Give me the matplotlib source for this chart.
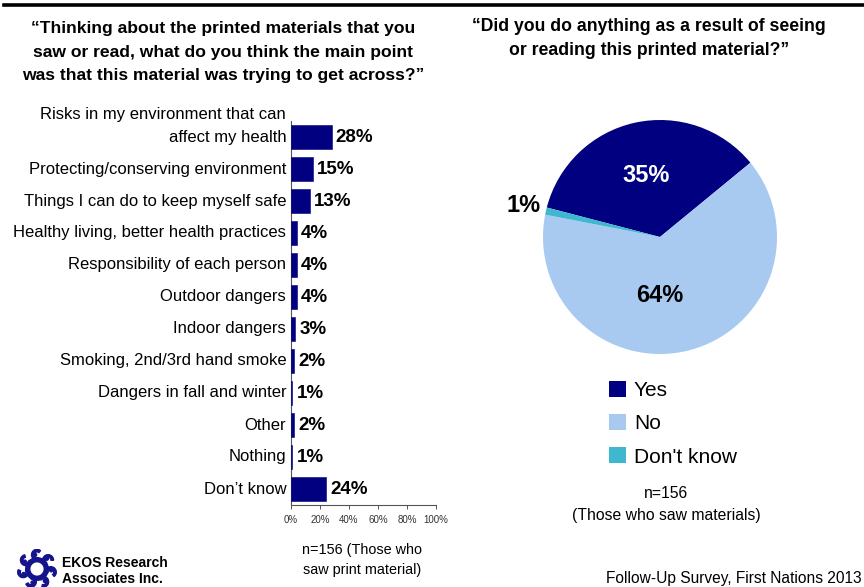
import numpy as np
import matplotlib
matplotlib.use("Agg")
import matplotlib.pyplot as plt
from matplotlib.patches import Patch, Wedge, Circle

# ---- data -------------------------------------------------------------
categories = [
    "Risks in my environment that can\naffect my health",
    "Protecting/conserving environment",
    "Things I can do to keep myself safe",
    "Healthy living, better health practices",
    "Responsibility of each person",
    "Outdoor dangers",
    "Indoor dangers",
    "Smoking, 2nd/3rd hand smoke",
    "Dangers in fall and winter",
    "Other",
    "Nothing",
    "Don\u2019t know",
]
main_point_pct = [28, 15, 13, 4, 4, 4, 3, 2, 1, 2, 1, 24]
x_ticks = [0, 20, 40, 60, 80, 100]

pie_labels = ["Yes", "No", "Don't know"]
pie_pct = [35, 64, 1]

# ---- style -------------------------------------------------------------
NAVY = "#000080"
LIGHT = "#a9caf0"
TEAL = "#3fb8cf"
REG = ["Liberation Sans", "DejaVu Sans"]

W, H = 864, 587
fig = plt.figure(figsize=(W / 100, H / 100), dpi=100)
fig.patch.set_facecolor("white")


def fx(px):
    return px / W


def fy(py):
    return 1 - py / H


# rule across the top
fig.add_artist(plt.Line2D([fx(4), fx(864)], [fy(5), fy(5)], color="black", lw=2.6))

# ---- titles ------------------------------------------------------------
fig.text(fx(223), fy(52),
         "\u201cThinking about the printed materials that you\n"
         "saw or read, what do you think the main point\n"
         "was that this material was trying to get across?\u201d",
         ha="center", va="center", fontsize=12.6, fontweight="bold",
         family=REG, linespacing=1.7)
fig.text(fx(649), fy(38.5),
         "\u201cDid you do anything as a result of seeing\n"
         "or reading this printed material?\u201d",
         ha="center", va="center", fontsize=12.7, fontweight="bold",
         family=REG, linespacing=1.5)

# ---- bar chart ---------------------------------------------------------
ax = fig.add_axes([fx(291), fy(505), fx(436) - fx(291), (505 - 121) / H])
y = np.arange(len(categories))
ax.barh(y, main_point_pct, height=0.74, color=NAVY, edgecolor=NAVY,
        linewidth=0.4, zorder=3)
ax.set_xlim(0, 100)
ax.set_ylim(len(categories) - 0.5, -0.5)
ax.set_yticks([])
ax.set_xticks(x_ticks)
ax.set_xticklabels([f"{t}%" for t in x_ticks], fontsize=7, family=REG, color="#333333")
ax.tick_params(axis="x", length=3, width=0.7, color="#555555", pad=4)
for s in ("top", "right"):
    ax.spines[s].set_visible(False)
for s in ("left", "bottom"):
    ax.spines[s].set_color("#555555")
    ax.spines[s].set_linewidth(0.8)

for yi, (lab, val) in enumerate(zip(categories, main_point_pct)):
    lines = lab.split("\n")
    n = len(lines)
    for k, line in enumerate(lines):
        ax.annotate(line, xy=(0, yi), xycoords=("axes fraction", "data"),
                    xytext=(-3.5, (n - 1 - k) * 16.5), textcoords="offset points",
                    ha="right", va="center", fontsize=12, family=REG)
    ax.annotate(f"{val}%", xy=(val, yi), xytext=(3, 0), textcoords="offset points",
                ha="left", va="center", fontsize=13.5, fontweight="bold", family=REG)

fig.text(fx(362), fy(560), "n=156 (Those who\nsaw print material)",
         ha="center", va="center", fontsize=10.4, family=REG, linespacing=1.55)

# ---- pie chart ---------------------------------------------------------
pax = fig.add_axes([fx(660 - 117), fy(237 + 117), 234 / W, 234 / H])
wedges, _ = pax.pie(pie_pct, colors=[NAVY, LIGHT, TEAL], startangle=165.4,
                    counterclock=False, radius=1.0,
                    wedgeprops=dict(linewidth=0))
pax.set_xlim(-1, 1)
pax.set_ylim(-1, 1)
pax.set_aspect("equal")
pax.axis("off")

# percentage labels placed along each wedge's mid-angle
label_r = [0.54, 0.50, 1.20]
label_col = ["white", "black", "black"]
for wdg, pct, r, col in zip(wedges, pie_pct, label_r, label_col):
    mid = np.deg2rad((wdg.theta1 + wdg.theta2) / 2)
    if pct == 64:
        mid = np.deg2rad(-90)
    pax.text(r * np.cos(mid), r * np.sin(mid), f"{pct}%", ha="center", va="center",
             fontsize=17, fontweight="bold", color=col, family=REG)

handles = [Patch(facecolor=c, edgecolor="none") for c in (NAVY, LIGHT, TEAL)]
fig.legend(handles, pie_labels, loc="upper left", bbox_to_anchor=(fx(609), fy(381)),
           frameon=False, handlelength=0.8, handleheight=0.8,
           handletextpad=0.4, labelspacing=0.67, borderpad=0, borderaxespad=0,
           prop=dict(family=REG, size=15))

fig.text(fx(666), fy(504.5), "n=156\n(Those who saw materials)", ha="center", va="center",
         fontsize=11.3, family=REG, linespacing=1.55)

fig.text(fx(862), fy(579), "Follow-Up Survey, First Nations 2013", ha="right", va="center",
         fontsize=11.2, family=REG)

# ---- logo --------------------------------------------------------------
lax = fig.add_axes([fx(17), fy(589), 40 / W, 40 / H])
lax.set_xlim(-1.1, 1.1)
lax.set_ylim(-1.1, 1.1)
lax.set_aspect("equal")
lax.axis("off")
LOGO = "#14148c"
lax.add_patch(Wedge((0, 0), 0.62, 0, 360, width=0.22, color=LOGO))
for k in range(7):
    a = np.deg2rad(90 + k * 360 / 7)
    cx, cy = 0.78 * np.cos(a), 0.78 * np.sin(a)
    lax.add_patch(Wedge((cx, cy), 0.3, np.rad2deg(a) - 40, np.rad2deg(a) + 200,
                        width=0.14, color=LOGO))
    lax.add_patch(Circle((cx + 0.1 * np.cos(a + 1.6), cy + 0.1 * np.sin(a + 1.6)),
                         0.08, color=LOGO))

fig.text(fx(62), fy(571), "EKOS Research\nAssociates Inc.", ha="left", va="center",
         fontsize=10, fontweight="bold", family=REG, linespacing=1.1)

fig.savefig("out.png", dpi=100, facecolor="white")
